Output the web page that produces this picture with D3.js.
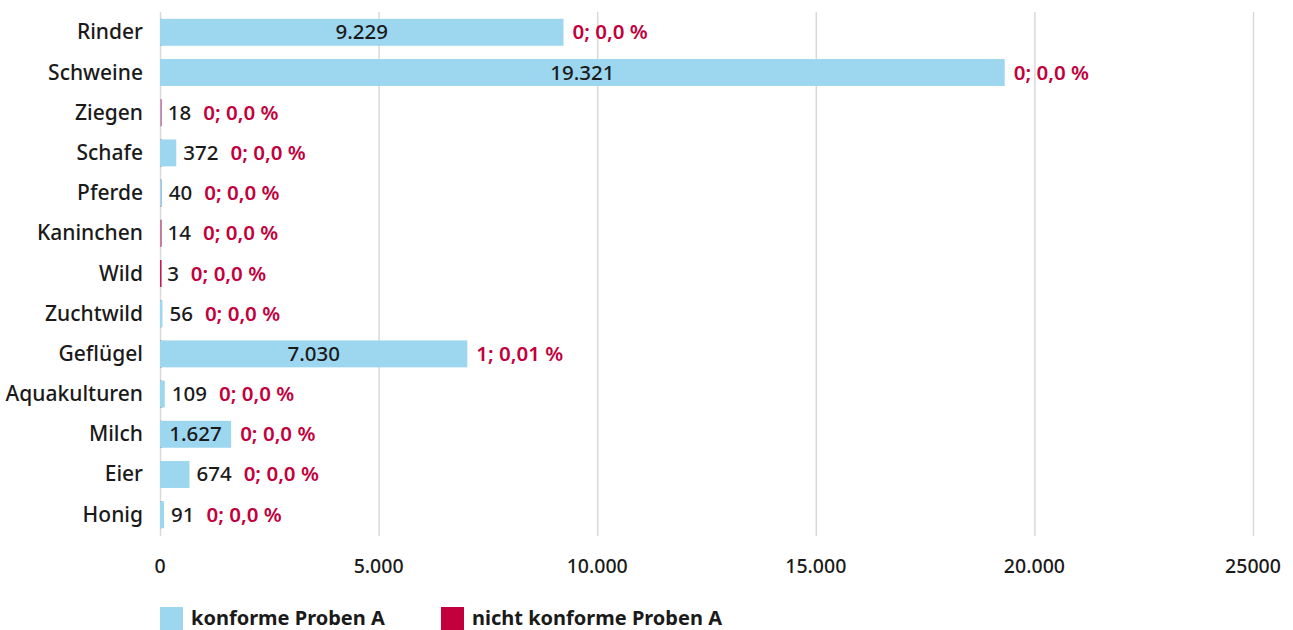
<!DOCTYPE html>
<html>
<head>
<meta charset="utf-8">
<script src="https://cdn.jsdelivr.net/npm/d3@7"></script>
<style>
  html, body { margin: 0; padding: 0; background: #fff; }
  svg { display: block; }
  text { font-family: "Noto Sans", sans-serif; }
</style>
</head>
<body>
<svg id="chart" width="1293" height="630"></svg>
<script>
const categories = ["Rinder", "Schweine", "Ziegen", "Schafe", "Pferde", "Kaninchen", "Wild", "Zuchtwild", "Geflügel", "Aquakulturen", "Milch", "Eier", "Honig"];
const conformValues = [9229, 19321, 18, 372, 40, 14, 3, 56, 7030, 109, 1627, 674, 91];
const conformLabels = ["9.229", "19.321", "18", "372", "40", "14", "3", "56", "7.030", "109", "1.627", "674", "91"];
const nonConformValues = [0, 0, 0, 0, 0, 0, 0, 0, 1, 0, 0, 0, 0];
const nonConformLabels = ["0; 0,0 %", "0; 0,0 %", "0; 0,0 %", "0; 0,0 %", "0; 0,0 %", "0; 0,0 %", "0; 0,0 %", "0; 0,0 %", "1; 0,01 %", "0; 0,0 %", "0; 0,0 %", "0; 0,0 %", "0; 0,0 %"];
const tickValues = [0, 5000, 10000, 15000, 20000, 25000];
const tickLabels = ["0", "5.000", "10.000", "15.000", "20.000", "25000"];
const seriesNames = ["konforme Proben A", "nicht konforme Proben A"];

const BLUE = "#9dd7ef";
const RED = "#c2003d";
const TEXT = "#1a1a1a";

const svg = d3.select("#chart");
const x = d3.scaleLinear().domain([0, 25000]).range([160, 1253]);
const y = d3.scaleBand().domain(categories).range([12, 535]).paddingInner(0.33).paddingOuter(0.17);

// grid
svg.append("g").selectAll("line").data(tickValues).join("line")
  .attr("x1", d => x(d) + 0.5).attr("x2", d => x(d) + 0.5)
  .attr("y1", 12).attr("y2", 536)
  .attr("stroke", "#d9d9d9").attr("stroke-width", 1.5);

// x tick labels
svg.append("g").selectAll("text").data(tickValues).join("text")
  .attr("x", d => x(d)).attr("y", 573)
  .attr("text-anchor", "middle")
  .attr("font-size", 19.5).attr("font-weight", 500).attr("fill", TEXT)
  .text((d, i) => tickLabels[i]);

// category labels
svg.append("g").selectAll("text").data(categories).join("text")
  .attr("x", 143).attr("y", d => y(d) + y.bandwidth() / 2 + 7)
  .attr("text-anchor", "end")
  .attr("font-size", 21).attr("font-weight", 500).attr("fill", TEXT)
  .text(d => d);

const data = categories.map((c, i) => ({c, v: conformValues[i], lab: conformLabels[i], nv: nonConformValues[i], nlab: nonConformLabels[i]}));

// non-conform series (thin, behind)
svg.append("g").selectAll("rect").data(data).join("rect")
  .attr("x", x(0)).attr("y", d => y(d.c))
  .attr("width", d => Math.max(x(d.nv) - x(0), 1.5))
  .attr("height", y.bandwidth())
  .attr("fill", RED);

// conform bars
svg.append("g").selectAll("rect").data(data).join("rect")
  .attr("x", x(0)).attr("y", d => y(d.c))
  .attr("width", d => x(d.v) - x(0))
  .attr("height", y.bandwidth())
  .attr("fill", BLUE);

// labels
const lg = svg.append("g");
data.forEach(d => {
  const w = x(d.v) - x(0);
  const cy = y(d.c) + y.bandwidth() / 2 + 7;
  let redX;
  if (w > 60) {
    lg.append("text").attr("x", x(0) + w / 2).attr("y", cy)
      .attr("text-anchor", "middle").attr("font-size", 20.5).attr("font-weight", 500).attr("fill", TEXT).text(d.lab);
    redX = x(d.v) + 9;
  } else {
    const t = lg.append("text").attr("x", x(d.v) + 7).attr("y", cy)
      .attr("font-size", 20.5).attr("font-weight", 500).attr("fill", TEXT).text(d.lab);
    redX = x(d.v) + 7 + t.node().getComputedTextLength() + 12;
  }
  lg.append("text").attr("x", redX).attr("y", cy)
    .attr("font-size", 20.5).attr("font-weight", 600).attr("fill", RED).text(d.nlab);
});

// legend
const leg = svg.append("g");
const legX = [160, 441];
const legColors = [BLUE, RED];
seriesNames.forEach((n, i) => {
  leg.append("rect").attr("x", legX[i]).attr("y", 607).attr("width", 23).attr("height", 23).attr("fill", legColors[i]);
  leg.append("text").attr("x", legX[i] + 31).attr("y", 625)
    .attr("font-size", 20).attr("font-weight", 700).attr("fill", TEXT).text(n);
});
</script>
</body>
</html>
